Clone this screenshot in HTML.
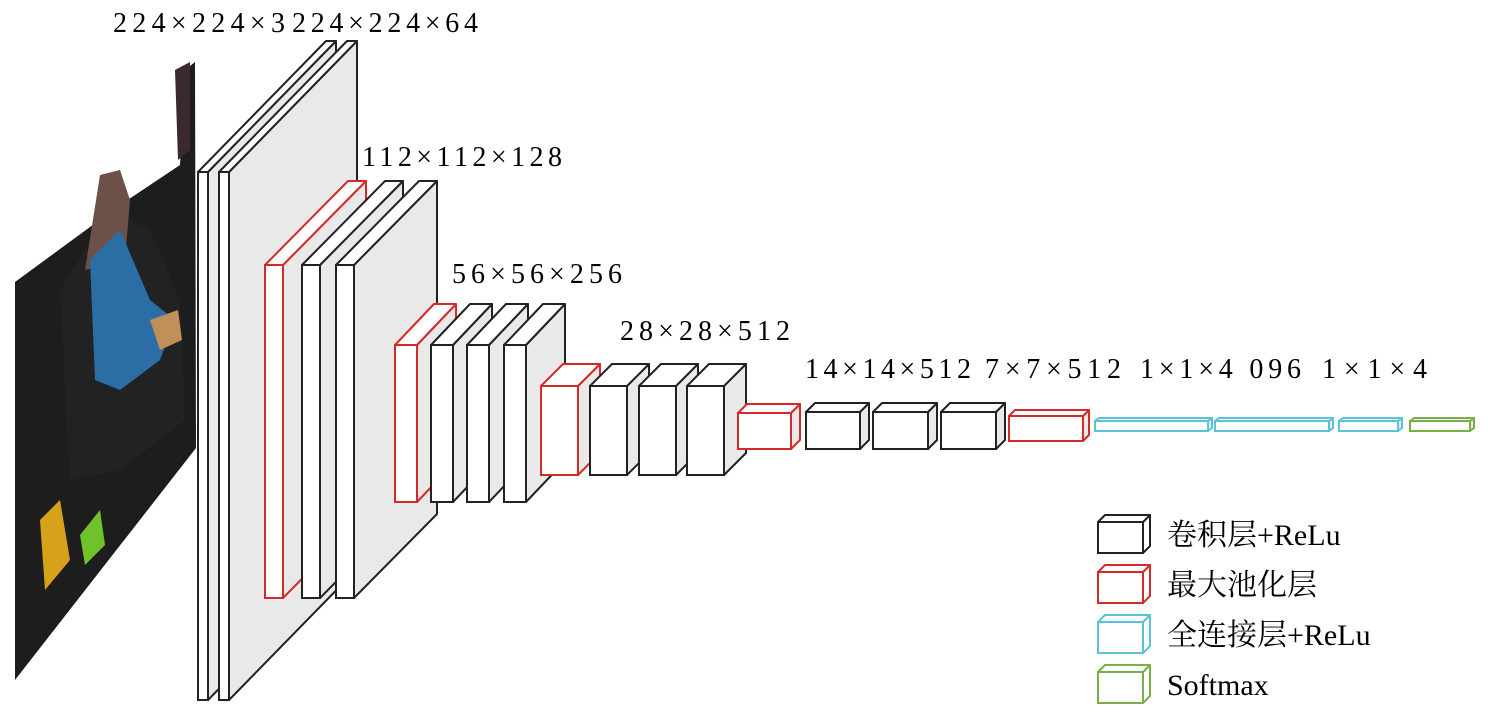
<!DOCTYPE html>
<html><head><meta charset="utf-8"><style>
html,body{margin:0;padding:0;background:#fff;width:1488px;height:715px;overflow:hidden}
svg{display:block}
text{font-family:"Liberation Serif","Noto Serif CJK SC",serif;fill:#000}
</style></head><body>
<svg id="s" width="1488" height="715" viewBox="0 0 1488 715" xmlns="http://www.w3.org/2000/svg">
<!-- photo -->
<polygon points="15,282 120,205 180,165 185,70 195,62 196,448 15,680" fill="#1c1d1c"/>
<polygon points="60,290 110,210 150,230 180,300 185,420 120,470 70,480" fill="#222"/>
<polygon points="85,270 100,175 120,170 130,200 125,260" fill="#6b5148"/>
<polygon points="90,260 120,230 150,300 175,320 160,360 120,390 95,380" fill="#2a6ea5"/>
<polygon points="150,320 178,310 182,340 160,350" fill="#c0905a"/>
<polygon points="40,520 60,500 70,560 45,590" fill="#d6a21a"/>
<polygon points="80,535 100,510 105,545 85,565" fill="#6fc22a"/>
<polygon points="175,70 190,62 190,150 178,160" fill="#3a2a2e"/>
<g id="boxes"></g>
<text x="113" y="32" font-size="28" textLength="172" lengthAdjust="spacing">224×224×3</text>
<text x="292" y="32" font-size="28" textLength="186" lengthAdjust="spacing">224×224×64</text>
<text x="362" y="166" font-size="28" textLength="200" lengthAdjust="spacing">112×112×128</text>
<text x="452" y="283" font-size="28" textLength="170" lengthAdjust="spacing">56×56×256</text>
<text x="620" y="340" font-size="28" textLength="170" lengthAdjust="spacing">28×28×512</text>
<text x="805" y="378" font-size="28" textLength="166" lengthAdjust="spacing">14×14×512</text>
<text x="985" y="378" font-size="28" textLength="136" lengthAdjust="spacing">7×7×512</text>
<text x="1140" y="378" font-size="28" textLength="161" lengthAdjust="spacing">1×1×4 096</text>
<text x="1322" y="378" font-size="28" textLength="105" lengthAdjust="spacing">1×1×4</text>
<text x="1167" y="545" font-size="30">卷积层+ReLu</text>
<text x="1167" y="595" font-size="30">最大池化层</text>
<text x="1167" y="645" font-size="30">全连接层+ReLu</text>
<text x="1167" y="695" font-size="30">Softmax</text>
</svg>
<script>
var g=document.getElementById('boxes'),h='';
function B(x,y,w,hh,dx,dy,c,side){
 side=side||'#e9e9e9';
 h+='<polygon points="'+(x+w)+','+y+' '+(x+w+dx)+','+(y-dy)+' '+(x+w+dx)+','+(y+hh-dy)+' '+(x+w)+','+(y+hh)+'" fill="'+side+'" stroke="'+c+'" stroke-width="2" stroke-linejoin="round"/>';
 h+='<polygon points="'+x+','+y+' '+(x+dx)+','+(y-dy)+' '+(x+w+dx)+','+(y-dy)+' '+(x+w)+','+y+'" fill="#fff" stroke="'+c+'" stroke-width="2" stroke-linejoin="round"/>';
 h+='<rect x="'+x+'" y="'+y+'" width="'+w+'" height="'+hh+'" fill="#fff" stroke="'+c+'" stroke-width="2"/>';
}
var K='#222',R='#d42a2a',C='#5bc3d6',G='#7ab04a';
B(198,172,10,528,128,131,K);B(219,172,10,528,128,131,K);
B(265,265,18,333,83,84,R);B(302,265,18,333,83,84,K);B(336,265,18,333,83,84,K);
B(395,345,22,157,39,41,R);B(431,345,22,157,39,41,K);B(467,345,22,157,39,41,K);B(504,345,22,157,39,41,K);
B(541,386,37,89,22,22,R);B(590,386,37,89,22,22,K);B(639,386,37,89,22,22,K);B(687,386,37,89,22,22,K);
B(738,413,53,36,9,9,R);B(806,412,54,37,9,9,K);B(873,412,55,37,9,9,K);B(941,412,55,37,9,9,K);
B(1009,416,74,25,6,6,R);
B(1095,421,113,10,4,3,C);B(1215,421,114,10,4,3,C);B(1339,421,59,10,4,3,C);B(1410,421,60,10,4,3,G);
B(1098,522,45,31,7,7,K,'#fff');B(1098,572,45,31,7,7,R,'#fff');B(1098,622,45,31,7,7,C,'#fff');B(1098,672,45,31,7,7,G,'#fff');
g.innerHTML=h;
</script>
</body></html>
